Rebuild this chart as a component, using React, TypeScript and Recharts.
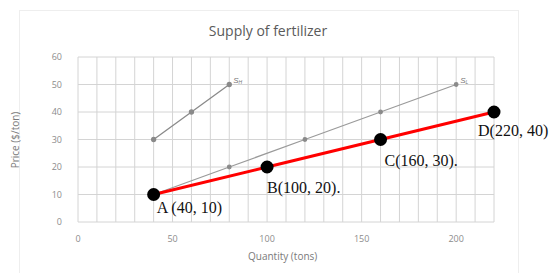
import { LineChart, Line, XAxis, YAxis, CartesianGrid } from 'recharts';

const xTicks = [0, 10, 20, 30, 40, 50, 60, 70, 80, 90, 100, 110, 120, 130, 140, 150, 160, 170, 180, 190, 200, 210, 220];
const yTicks = [0, 10, 20, 30, 40, 50, 60];

const supplyHigh = [
  { q: 40, p: 30 },
  { q: 60, p: 40 },
  { q: 80, p: 50 },
];
const supplyLow = [
  { q: 40, p: 10 },
  { q: 80, p: 20 },
  { q: 120, p: 30 },
  { q: 160, p: 40 },
  { q: 200, p: 50 },
];
const redPoints = [
  { q: 40, p: 10 },
  { q: 100, p: 20 },
  { q: 160, p: 30 },
  { q: 220, p: 40 },
];
const redLabels = ['A (40, 10)', 'B(100, 20).', 'C(160, 30).', 'D(220, 40)'];
const labelShift = [
  { dx: 3, dy: 18 },
  { dx: 0, dy: 26 },
  { dx: 4, dy: 26 },
  { dx: -16, dy: 24 },
];

const tickStyle = { fontSize: 9, fill: '#8c8c8c', fontFamily: '"Open Sans", sans-serif' };
const axisTitle = { position: 'absolute' as const, fontFamily: '"Open Sans", sans-serif', fontSize: 10, color: '#7a7a7a', whiteSpace: 'nowrap' as const };

function RedLabel(props: any) {
  const { x, y, index } = props;
  const s = labelShift[index];
  return (
    <text x={x + s.dx} y={y + s.dy} fontSize={16} fill="#111" fontFamily='"Liberation Serif", serif'>
      {redLabels[index]}
    </text>
  );
}

function CurveName(sub: string, n: number) {
  return (props: any) => {
    const { x, y, index } = props;
    if (index !== n - 1) return null;
    return (
      <text x={x + 4} y={y - 2} fontSize={8} fill="#777" fontFamily='"Liberation Sans", sans-serif' fontStyle="italic">
        S<tspan fontSize={5} dy={1}>{sub}</tspan>
      </text>
    );
  };
}

export default function App() {
  return (
    <div style={{ position: 'absolute', left: 0, top: 0, width: 560, height: 273, background: '#fff', overflow: 'hidden' }}>
      <div style={{ position: 'absolute', left: 19, top: 10, width: 498, height: 270, borderTop: '1px solid #eee', borderLeft: '1px solid #eee', borderRight: '1px solid #eee' }} />
      <div style={{ position: 'absolute', left: 0, top: 21, width: 536, textAlign: 'center', fontFamily: '"Open Sans", sans-serif', fontSize: 14, color: '#5a5a5a' }}>
        Supply of fertilizer
      </div>
      <div style={{ ...axisTitle, left: 248, top: 249 }}>Quantity (tons)</div>
      <div style={{ ...axisTitle, left: 15, top: 140, transform: 'translate(-50%, -50%) rotate(-90deg)' }}>Price ($/ton)</div>
      <LineChart width={560} height={273} margin={{ top: 57, right: 66, bottom: 0, left: 0 }} style={{ position: 'absolute', left: 0, top: 0 }}>
        <CartesianGrid stroke="#d4d4d4" />
        <XAxis
          type="number"
          dataKey="q"
          domain={[0, 220]}
          ticks={xTicks}
          interval={0}
          tickFormatter={(v: number) => (v % 50 === 0 ? String(v) : '')}
          axisLine={false}
          tickLine={false}
          tick={tickStyle}
          tickMargin={8}
          height={51}
        />
        <YAxis
          type="number"
          dataKey="p"
          domain={[0, 60]}
          ticks={yTicks}
          interval={0}
          axisLine={false}
          tickLine={false}
          tick={tickStyle}
          tickMargin={10}
          width={78}
        />
        <Line data={supplyHigh} dataKey="p" stroke="#8a8a8a" strokeWidth={1.3} dot={{ r: 2, fill: '#8a8a8a', stroke: '#8a8a8a' }} isAnimationActive={false} label={CurveName('H', supplyHigh.length)} />
        <Line data={supplyLow} dataKey="p" stroke="#9a9a9a" strokeWidth={1.2} dot={{ r: 1.8, fill: '#8a8a8a', stroke: '#8a8a8a' }} isAnimationActive={false} label={CurveName('L', supplyLow.length)} />
        <Line data={redPoints} dataKey="p" stroke="#ff0000" strokeWidth={3} dot={{ r: 5, fill: '#000', stroke: '#000' }} isAnimationActive={false} label={<RedLabel />} />
      </LineChart>
    </div>
  );
}
